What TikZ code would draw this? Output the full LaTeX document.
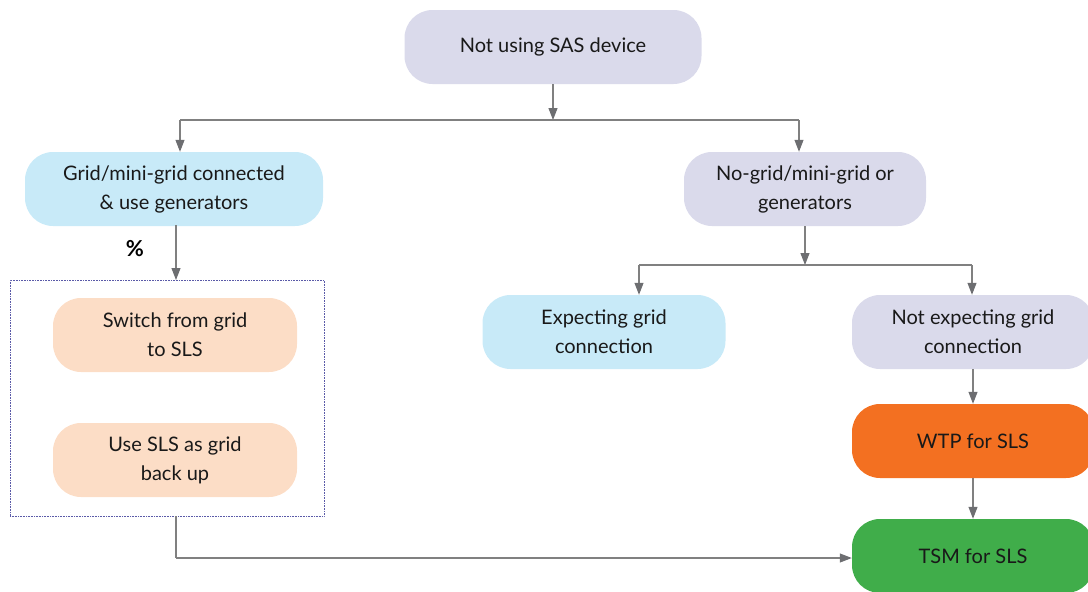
\documentclass[tikz,border=0pt]{standalone}
\usepackage{fontspec}
\setmainfont{Lato}
\usetikzlibrary{arrows.meta}
\definecolor{lav}{HTML}{DADAEB}
\definecolor{lblue}{HTML}{C8EAF8}
\definecolor{peach}{HTML}{FCDDC6}
\definecolor{orng}{HTML}{F37021}
\definecolor{grn}{HTML}{40AD4A}
\definecolor{lgray}{HTML}{808080}
\definecolor{tipgray}{HTML}{6D6E71}
\definecolor{dotblue}{HTML}{5A5AA8}
\tikzset{
  box/.style={rounded corners=28pt, minimum height=74pt, align=center, inner sep=0pt,
    font=\fontsize{20}{29}\selectfont, text=black!90,
    execute at begin node={\vspace*{7pt}}},
  conn/.style={draw=lgray, line width=1.1pt, -{Triangle[length=12pt,width=9pt,color=tipgray]}},
  plain/.style={draw=lgray, line width=1.1pt}
}
\begin{document}
\begin{tikzpicture}[x=1pt,y=-1pt]
\useasboundingbox (0,0) rectangle (1088,592);
\node[box, fill=lav, minimum width=297pt] (top) at (553,47) {Not using SAS device};
\node[box, fill=lblue, minimum width=298pt] (grid) at (174,189) {Grid/mini-grid connected\\\& use generators};
\node[box, fill=lav, minimum width=242pt] (nogrid) at (805,189) {No-grid/mini-grid or\\generators};
\node[box, fill=peach, minimum width=244pt] (switch) at (175,335) {Switch from grid\\to SLS};
\node[box, fill=peach, minimum width=244pt] (backup) at (175,460) {Use SLS as grid\\back up};
\node[box, fill=lblue, minimum width=243pt] (expect) at (604,332) {Expecting grid\\connection};
\node[box, fill=lav, minimum width=242pt] (notexp) at (973,332) {Not expecting grid\\connection};
\node[box, fill=orng, minimum width=242pt] (wtp) at (973,441) {WTP for SLS};
\node[box, fill=grn, minimum width=242pt] (tsm) at (973,556) {TSM for SLS};
\node[draw=dotblue, densely dotted, line width=0.6pt, minimum width=314pt, minimum height=236pt, inner sep=0pt] (grp) at (167,398) {};
\node[font=\bfseries\fontsize{22}{24}\selectfont] (pct) at (135,249) {\%};
% top split
\coordinate (j1) at (553,120);
\coordinate (l1) at (180,120);
\coordinate (r1) at (799,120);
\draw[conn] (top.south) -- (j1);
\draw[plain] (l1) -- (r1);
\draw[conn] (l1) -- (l1 |- grid.north);
\draw[conn] (r1) -- (r1 |- nogrid.north);
% grid to group
\draw[conn] (176,225) -- (176,280);
% no-grid split
\coordinate (j2) at (805,265);
\coordinate (l2) at (639,265);
\coordinate (r2) at (972,265);
\draw[conn] (nogrid.south) -- (j2);
\draw[plain] (l2) -- (r2);
\draw[conn] (l2) -- (l2 |- expect.north);
\draw[conn] (r2) -- (r2 |- notexp.north);
\draw[conn] (notexp.south) -- (wtp.north);
\draw[conn] (wtp.south) -- (tsm.north);
\coordinate (c1) at (176,558);
\draw[plain] (176,516) -- (c1);
\draw[conn] (c1) -- (tsm.west |- c1);
\end{tikzpicture}
\end{document}
